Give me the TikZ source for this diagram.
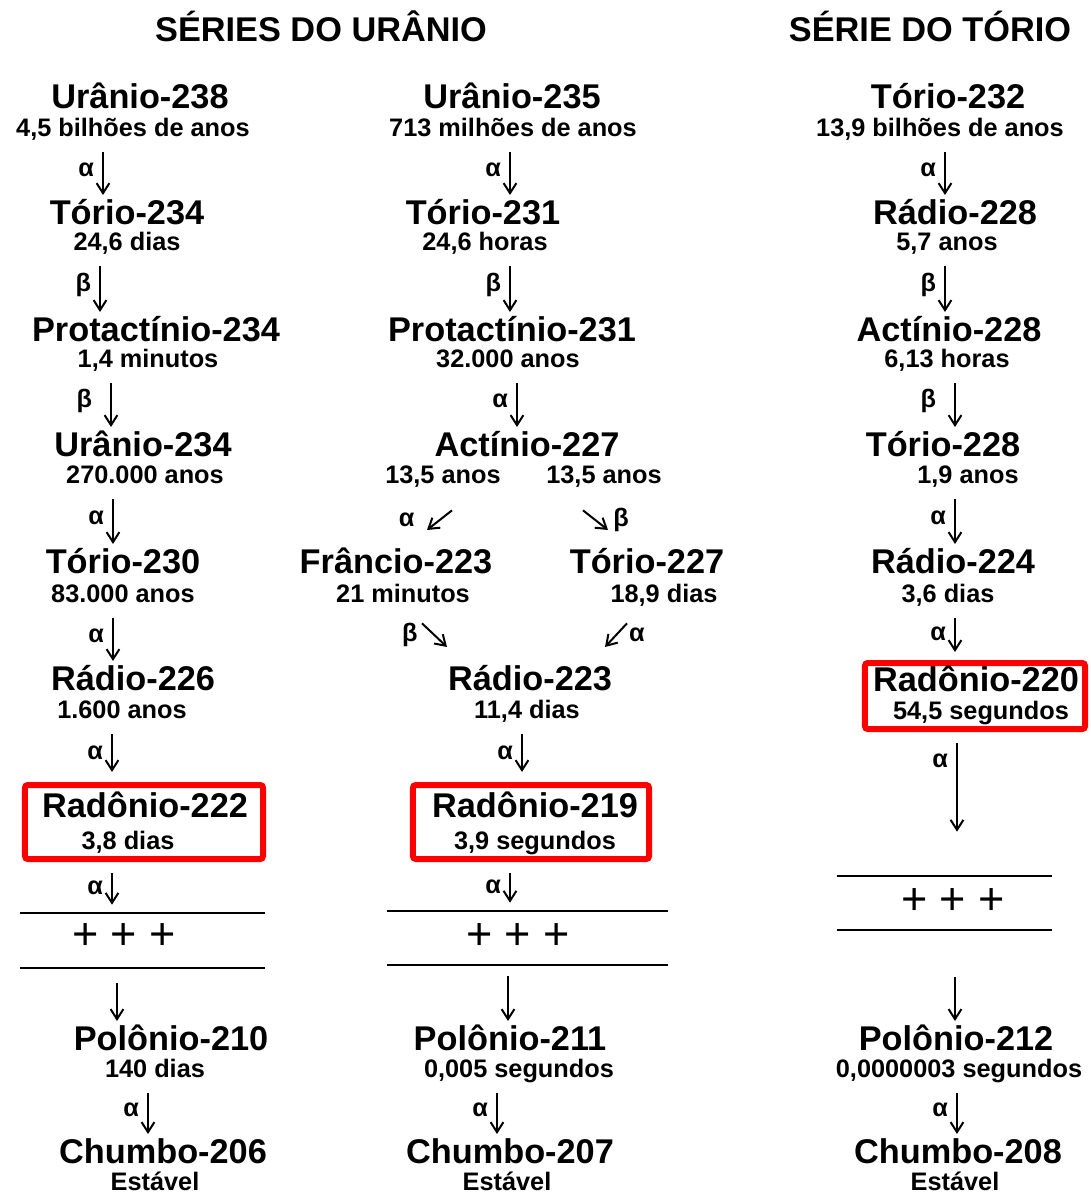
\documentclass[tikz,border=0pt]{standalone}
\usepackage{fontspec}
\setmainfont{Liberation Sans}
\usepackage{tikz}
\usetikzlibrary{arrows.meta, calc}
\newcommand{\nm}{\fontsize{24.4pt}{28pt}\selectfont\bfseries}
\newcommand{\tp}{\fontsize{18pt}{21pt}\selectfont\bfseries}
\newcommand{\ms}{\fontsize{32pt}{36pt}\selectfont}

\begin{document}
\begin{tikzpicture}[x=0.025cm, y=-0.025cm,
  nome/.style={font=\nm, anchor=base, inner sep=0pt, text height=18.3pt, text depth=2.8pt},
  tempo/.style={font=\tp, anchor=base, inner sep=0pt, text height=13.5pt, text depth=3.6pt},
  titulo/.style={font=\nm, anchor=base, inner sep=0pt},
  caixa/.style={draw=red, line width=0.15cm, rounded corners=2pt, inner sep=0pt},
  bloco/.style={inner sep=0pt, minimum height=1.35cm},
  mais/.style={font=\ms, inner sep=0pt},
  linha/.style={line width=0.05cm},
  seta/.style={-{Straight Barb[length=0.25cm, width=0.32cm]}, line width=0.05cm,
               shorten <=0.275cm, shorten >=0.075cm},
  diag/.style={seta, shorten <=0pt, shorten >=0pt},
  rot/.style={font=\tp, inner xsep=0.2cm, inner ysep=0pt}]
  \useasboundingbox (0,0) rectangle (1091,1193);
  % titulos
  \node[titulo] (tit1) at (321,41) {SÉRIES DO URÂNIO};
  \node[titulo] (tit2) at (930,41) {SÉRIE DO TÓRIO};
  % caixas do radonio
  \node[caixa, minimum width=5.95cm, minimum height=1.85cm] (cx1) at (144,822) {};
  \node[caixa, minimum width=5.9cm, minimum height=1.85cm]  (cx2) at (531,822) {};
  \node[caixa, minimum width=5.5cm, minimum height=1.65cm]  (cx3) at (975,696) {};
  % serie do uranio-238
  \node[nome]  (u238)   at (140,108)  {Urânio-238};
  \node[tempo] (u238t)  at (133,136)  {4,5 bilhões de anos};
  \node[nome]  (th234)  at (127,224)  {Tório-234};
  \node[tempo] (th234t) at (127,250)  {24,6 dias};
  \node[nome]  (pa234)  at (156,341)  {Protactínio-234};
  \node[tempo] (pa234t) at (148,367)  {1,4 minutos};
  \node[nome]  (u234)   at (143,456)  {Urânio-234};
  \node[tempo] (u234t)  at (145,483)  {270.000 anos};
  \node[nome]  (th230)  at (123,573)  {Tório-230};
  \node[tempo] (th230t) at (123,602)  {83.000 anos};
  \node[nome]  (ra226)  at (133,690)  {Rádio-226};
  \node[tempo] (ra226t) at (122,718)  {1.600 anos};
  \node[nome]  (rn222)  at (145,817)  {Radônio-222};
  \node[tempo] (rn222t) at (128,849)  {3,8 dias};
  \node[bloco, minimum width=6.125cm, minimum height=1.375cm] (d1) at (142.5,940.5) {};
  \node[mais]  (m1)     at (124,937)  {+ + +};
  \node[nome]  (po210)  at (171,1050) {Polônio-210};
  \node[tempo] (po210t) at (155,1077) {140 dias};
  \node[nome]  (pb206)  at (163,1163) {Chumbo-206};
  \node[tempo] (pb206t) at (155,1190) {Estável};
  \draw[linha] (d1.north west) -- (d1.north east);
  \draw[linha] (d1.south west) -- (d1.south east);
  \draw[seta] (u238t.south -| 103,0)  -- node[rot, left] {α} (th234.north -| 103,0);
  \draw[seta] (th234t.south -| 100,0) -- node[rot, left] {β} (pa234.north -| 100,0);
  \draw[seta] (pa234t.south -| 111,0) -- node[rot, left=0.25cm] {β} (u234.north -| 111,0);
  \draw[seta] (u234t.south -| 113,0)  -- node[rot, left] {α} (th230.north -| 113,0);
  \draw[seta] (th230t.south -| 113,0) -- node[rot, left] {α} (ra226.north -| 113,0);
  \draw[seta, shorten >=0.25cm] (ra226t.south -| 112,0) -- node[rot, left] {α} (cx1.north -| 112,0);
  \draw[seta, shorten >=0.2cm] (cx1.south -| 112,0) -- node[rot, left] {α} (d1.north -| 112,0);
  \draw[seta, shorten <=0.375cm] (d1.south -| 117,0) -- (po210.north -| 117,0);
  \draw[seta] (po210t.south -| 148,0) -- node[rot, left] {α} (pb206.north -| 148,0);
  % serie do uranio-235
  \node[nome]  (u235)   at (512,108)  {Urânio-235};
  \node[tempo] (u235t)  at (513,136)  {713 milhões de anos};
  \node[nome]  (th231)  at (483,224)  {Tório-231};
  \node[tempo] (th231t) at (485,250)  {24,6 horas};
  \node[nome]  (pa231)  at (512,341)  {Protactínio-231};
  \node[tempo] (pa231t) at (508,367)  {32.000 anos};
  \node[nome]  (ac227)  at (527,456)  {Actínio-227};
  \node[tempo] (ac227a) at (443,483)  {13,5 anos};
  \node[tempo] (ac227b) at (604,483)  {13,5 anos};
  \node[nome]  (fr223)  at (396,573)  {Frâncio-223};
  \node[tempo] (fr223t) at (403,602)  {21 minutos};
  \node[nome]  (th227)  at (647,573)  {Tório-227};
  \node[tempo] (th227t) at (664,602)  {18,9 dias};
  \node[nome]  (ra223)  at (530,690)  {Rádio-223};
  \node[tempo] (ra223t) at (527,718)  {11,4 dias};
  \node[nome]  (rn219)  at (535,817)  {Radônio-219};
  \node[tempo] (rn219t) at (535,849)  {3,9 segundos};
  \node[bloco, minimum width=7.025cm] (d2) at (527.5,938) {};
  \node[mais]  (m2)     at (518,937)  {+ + +};
  \node[nome]  (po211)  at (510,1050) {Polônio-211};
  \node[tempo] (po211t) at (519,1077) {0,005 segundos};
  \node[nome]  (pb207)  at (510,1163) {Chumbo-207};
  \node[tempo] (pb207t) at (507,1190) {Estável};
  \draw[linha] (d2.north west) -- (d2.north east);
  \draw[linha] (d2.south west) -- (d2.south east);
  \draw[seta] (u235t.south -| 510,0)  -- node[rot, left] {α} (th231.north -| 510,0);
  \draw[seta] (th231t.south -| 510,0) -- node[rot, left] {β} (pa231.north -| 510,0);
  \draw[seta] (pa231t.south -| 517,0) -- node[rot, left] {α} (ac227.north -| 517,0);
  \draw[diag] ([shift={(9,22)}]ac227a.south) -- node[rot, left=0.4cm] {α} ([shift={(31,-17)}]fr223.north);
  \draw[diag] ([shift={(-21,22)}]ac227b.south) -- node[rot, right=0.22cm] {β} ([shift={(-39,-17)}]th227.north);
  \draw[diag] ([shift={(19,16)}]fr223t.south) -- node[rot, left=0.2cm] {β} ([shift={(-83,-17)}]ra223.north);
  \draw[diag] ([shift={(-37,16)}]th227t.south) -- node[rot, right=0.1cm] {α} ([shift={(75,-17)}]ra223.north);
  \draw[seta, shorten >=0.25cm] (ra223t.south -| 522,0) -- node[rot, left] {α} (cx2.north -| 522,0);
  \draw[seta, shorten >=0.2cm] (cx2.south -| 510,0) -- node[rot, left] {α} (d2.north -| 510,0);
  \draw[seta] (d2.south -| 508,0) -- (po211.north -| 508,0);
  \draw[seta] (po211t.south -| 497,0) -- node[rot, left] {α} (pb207.north -| 497,0);
  % serie do torio-232
  \node[nome]  (th232)  at (948,108)  {Tório-232};
  \node[tempo] (th232t) at (940,136)  {13,9 bilhões de anos};
  \node[nome]  (ra228)  at (955,224)  {Rádio-228};
  \node[tempo] (ra228t) at (947,250)  {5,7 anos};
  \node[nome]  (ac228)  at (949,341)  {Actínio-228};
  \node[tempo] (ac228t) at (947,367)  {6,13 horas};
  \node[nome]  (th228)  at (943,456)  {Tório-228};
  \node[tempo] (th228t) at (968,483)  {1,9 anos};
  \node[nome]  (ra224)  at (953,573)  {Rádio-224};
  \node[tempo] (ra224t) at (948,602)  {3,6 dias};
  \node[nome]  (rn220)  at (976,691)  {Radônio-220};
  \node[tempo] (rn220t) at (981,719)  {54,5 segundos};
  \node[bloco, minimum width=5.375cm] (d3) at (944.5,903) {};
  \node[mais]  (m3)     at (953,902)  {+ + +};
  \node[nome]  (po212)  at (956,1050) {Polônio-212};
  \node[tempo] (po212t) at (959,1077) {0,0000003 segundos};
  \node[nome]  (pb208)  at (958,1163) {Chumbo-208};
  \node[tempo] (pb208t) at (955,1190) {Estável};
  \draw[linha] (d3.north west) -- (d3.north east);
  \draw[linha] (d3.south west) -- (d3.south east);
  \draw[seta] (th232t.south -| 945,0) -- node[rot, left] {α} (ra228.north -| 945,0);
  \draw[seta] (ra228t.south -| 945,0) -- node[rot, left] {β} (ac228.north -| 945,0);
  \draw[seta] (ac228t.south -| 955,0) -- node[rot, left=0.25cm] {β} (th228.north -| 955,0);
  \draw[seta] (th228t.south -| 955,0) -- node[rot, left] {α} (ra224.north -| 955,0);
  \draw[seta, shorten >=0.2cm] (ra224t.south -| 955,0) -- node[rot, left] {α} (cx3.north -| 955,0);
  \draw[seta, shorten >=1.1cm] (cx3.south -| 957,0) -- node[rot, left, pos=0.2] {α} (d3.north -| 957,0);
  \draw[seta, shorten <=1.175cm] (d3.south -| 955,0) -- (po212.north -| 955,0);
  \draw[seta] (po212t.south -| 957,0) -- node[rot, left] {α} (pb208.north -| 957,0);
\end{tikzpicture}
\end{document}
